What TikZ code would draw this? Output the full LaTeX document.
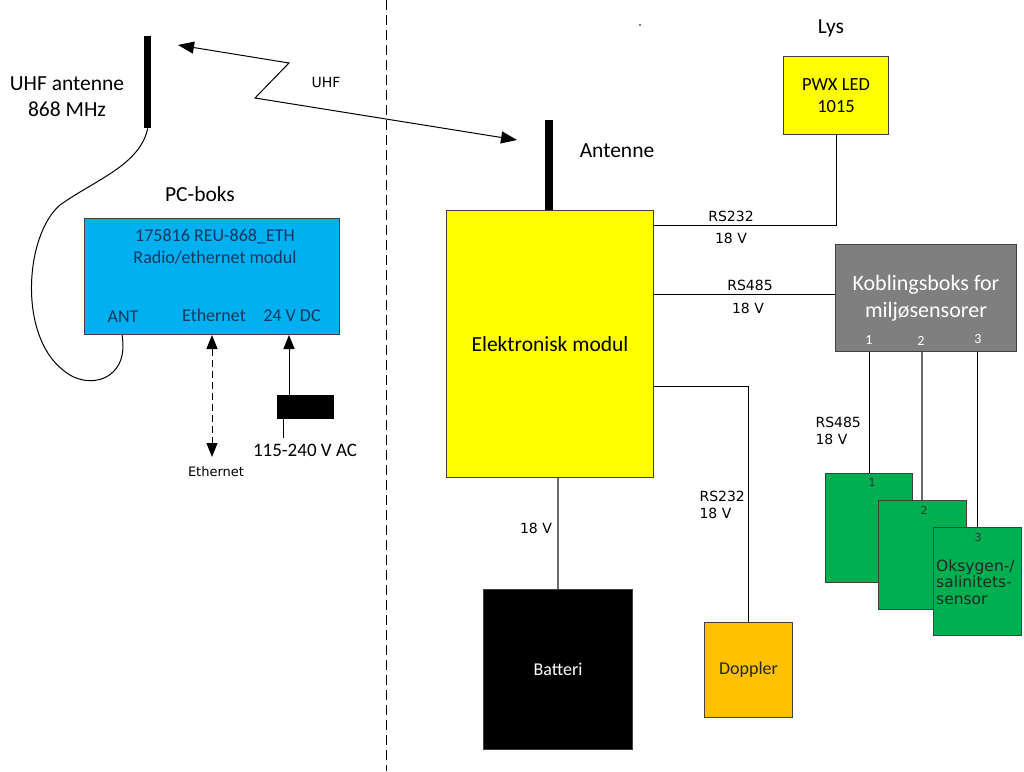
\documentclass[tikz,border=0pt]{standalone}
\usepackage{fontspec}
\setmainfont{Carlito}
\newfontfamily\verd{DejaVu Sans}
\usetikzlibrary{arrows.meta,calc}
\definecolor{boxblue}{HTML}{00B0F0}
\definecolor{boxyellow}{HTML}{FFFF00}
\definecolor{boxgray}{HTML}{7F7F7F}
\definecolor{boxgreen}{HTML}{00B050}
\definecolor{boxorange}{HTML}{FFC000}
\definecolor{edge}{HTML}{404040}
\definecolor{navy}{HTML}{17375E}
\definecolor{wire}{HTML}{6A6A6A}
\tikzset{
  blk/.style={draw=edge, line width=1pt, inner sep=0pt, anchor=north west},
  antbar/.style={fill=black, draw=none, inner sep=0pt, anchor=north west},
  big/.style={font=\fontsize{21.5}{24}\selectfont},
  mid/.style={font=\fontsize{18}{21}\selectfont},
  lab/.style={font=\verd\fontsize{14}{16}\selectfont},
  conn/.style={line width=1pt, black},
  tri/.style={-{Triangle[length=14pt,width=11pt]}},
}
\begin{document}
\begin{tikzpicture}[x=1pt,y=-1pt]
\fill[white] (0,0) rectangle (1024,771);
\useasboundingbox (0,0) rectangle (1024,771);

% divider
\draw[line width=1pt, dash pattern=on 10pt off 5pt] (386,0) -- (386,771);
\fill[black] (640,25) circle (0.8);

% left side
\node[antbar, minimum width=7pt, minimum height=92pt] (uhfant) at (144,36) {};
\node[big] (uhflab1) at (67,84) {UHF antenne};
\node[big] (uhflab2) at (67,109) {868 MHz};
\node[big] (pclab) at (200,194) {PC-boks};
\node[blk, fill=boxblue, minimum width=255pt, minimum height=116pt] (pcbox) at (84,218) {};
\node[mid, text=navy] (pct1) at (215,237) {175816 REU-868\_ETH};
\node[mid, text=navy] (pct2) at (215,258) {Radio/ethernet modul};
\node[mid, text=navy] (antp) at (123,317) {ANT};
\node[mid, text=navy] (ethp) at (214,315) {Ethernet};
\node[mid, text=navy] (dcp) at (292,316) {24 V DC};

\draw[line width=1pt] (uhfant.south) .. controls (140,165) and (95,180) .. (60,205)
  .. controls (25,235) and (18,335) .. (63,370)
  .. controls (88,392) and (130,380) .. (pcbox.south west -| 122,0);

\coordinate (ethend) at (212,457);
\draw[line width=1pt, dash pattern=on 7pt off 4pt, {Triangle[length=14pt,width=11pt]}-{Triangle[length=14pt,width=11pt]}]
  (pcbox.south -| 212,0) -- (ethend);
\node[lab, font=\verd\fontsize{13}{15}\selectfont] (ethlab) at (216,472) {Ethernet};

\node[antbar, minimum width=57pt, minimum height=24pt] (psu) at (277,395) {};
\draw[conn, tri] (psu.north -| 289,0) -- (pcbox.south -| 289,0);
\coordinate (acend) at (283,438);
\draw[conn] (psu.south -| acend) -- (acend);
\node[font=\fontsize{19}{22}\selectfont] (aclab) at (305,450) {115-240 V AC};

% UHF link
\coordinate (uhftip) at (178,45);
\coordinate (z2) at (289,63);
\coordinate (z1) at (255,98);
\coordinate (anttip) at (517,140);
\draw[line width=1pt, {Triangle[length=16pt,width=12pt]}-{Triangle[length=16pt,width=12pt]}]
  (uhftip) -- (z2) -- (z1) -- (anttip);
\node[lab] (uhflab) at (326,82) {UHF};

% right side
\node[antbar, minimum width=8pt, minimum height=92pt] (ant2) at (545,120) {};
\node[big] (antlab) at (617,151) {Antenne};
\node[blk, fill=boxyellow, minimum width=207pt, minimum height=267pt, big] (elek) at (446,210) {};
\node[big] (eleklab) at (elek.center) {Elektronisk modul};

\node[big] (lyslab) at (831,28) {Lys};
\node[blk, fill=boxyellow, minimum width=105pt, minimum height=78pt] (pwx) at (783,56) {};
\node[mid, align=center, font=\fontsize{18.5}{22}\selectfont] (pwxlab) at (pwx.center) {PWX LED\\1015};

\node[blk, fill=boxgray, minimum width=181pt, minimum height=107pt] (kob) at (835,244) {};
\node[text=white, align=center, font=\fontsize{22}{27}\selectfont] (koblab) at (kob.center) {Koblingsboks for\\miljøsensorer};
\node[text=white, font=\fontsize{14}{16}\selectfont] (k1) at (869,340) {1};
\node[text=white, font=\fontsize{14}{16}\selectfont] (k2) at (921,341) {2};
\node[text=white, font=\fontsize{14}{16}\selectfont] (k3) at (978,339) {3};

% connectors from electronics module
\draw[conn] (elek.east |- 0,225) -| (pwx.south);
\node[lab] (l1a) at (731,216) {RS232};
\node[lab] (l1b) at (731,238) {18 V};
\draw[conn] (elek.east |- 0,294) -- (kob.west |- 0,294);
\node[lab] (l2a) at (750,285) {RS485};
\node[lab] (l2b) at (748,308) {18 V};

\node[blk, fill=black, minimum width=149pt, minimum height=160pt] (bat) at (483,589) {};
\node[text=white, mid] (batlab) at (bat.center) {Batteri};
\draw[line width=1.6pt, wire] (elek.south -| bat.north) -- (bat.north);
\node[lab] (l3) at (536,528) {18 V};

\node[blk, fill=boxorange, minimum width=88pt, minimum height=95pt] (dop) at (704,622) {};
\node[mid, text=black!85] (doplab) at (dop.center) {Doppler};
\draw[conn] (elek.east |- 0,386) -| (dop.north);
\node[lab, anchor=west] (l4a) at (696,496) {RS232};
\node[lab, anchor=west] (l4b) at (696,513) {18 V};

% sensors
\node[blk, fill=boxgreen, minimum width=87pt, minimum height=109pt] (s1) at (825,473) {};
\node[blk, fill=boxgreen, minimum width=88pt, minimum height=109pt] (s2) at (878,500) {};
\node[blk, fill=boxgreen, minimum width=88pt, minimum height=108pt] (s3) at (933,527) {};
\node[font=\verd\fontsize{11}{13}\selectfont, text=black!80] (n1) at (872,482) {1};
\node[font=\verd\fontsize{11}{13}\selectfont, text=black!80] (n2) at (924,510) {2};
\node[font=\verd\fontsize{11}{13}\selectfont, text=black!80] (n3) at (978,537) {3};
\node[anchor=west, align=left, inner sep=0pt, text=black!85, font=\verd\fontsize{15.5}{16.5}\selectfont] (s3lab) at (936,582) {Oksygen-/\\salinitets-\\sensor};

\draw[conn] (kob.south -| 869,0) -- (s1.north -| 869,0);
\draw[line width=1.6pt, wire] (kob.south -| 922,0) -- (s2.north -| 922,0);
\draw[conn] (kob.south -| 977,0) -- (s3.north -| 977,0);
\node[lab, anchor=west] (l5a) at (812,422) {RS485};
\node[lab, anchor=west] (l5b) at (812,439) {18 V};
\end{tikzpicture}
\end{document}
